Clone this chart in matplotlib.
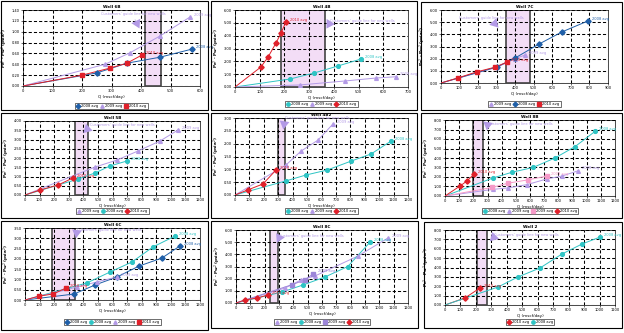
import matplotlib
matplotlib.use('Agg')
import matplotlib.pyplot as plt
from matplotlib.patches import Rectangle

W, H = 624, 333

# colours
BLUE = '#1F5FA8'
CYAN = '#2EC4C4'
LAV = '#B39AE6'
RED = '#E0202A'
PINK = '#F59AC8'

# ---------------- data (Q in mscf/day, Pe^2-Pw^2 in psia^2 scaled) ----------------
titles = ['Well 6B', 'Well 4B', 'Well 7C', 'Well 5B', 'Well 4B2', 'Well 8B',
          'Well 6C', 'Well 8C', 'Well 2']

# panel 1
p1_q08 = [0, 250, 352, 464, 573]
p1_p08 = [0, 0.24, 0.42, 0.53, 0.68]
p1_q09 = [0, 278, 362, 464, 566]
p1_p09 = [0, 0.40, 0.61, 0.92, 1.27]
p1_q10 = [0, 200, 295, 352, 403]
p1_p10 = [0, 0.20, 0.33, 0.42, 0.57]

# panel 2
p2_q08 = [0, 222, 320, 417, 510]
p2_p08 = [0, 0.62, 1.09, 1.64, 2.18]
p2_q09 = [0, 263, 445, 571, 651]
p2_p09 = [0, 0.16, 0.47, 0.70, 0.80]
p2_q10 = [0, 105, 134, 166, 186, 206]
p2_p10 = [0, 1.56, 2.34, 3.43, 4.20, 5.07]

# panel 3
p3_q08 = [0, 302, 399, 528, 652, 792]
p3_p08 = [0, 1.32, 2.05, 3.20, 4.20, 5.10]
p3_q09 = [0, 302, 399, 453]
p3_p09 = [0, 1.30, 2.00, 2.30]
p3_q10 = [0, 92, 194, 291, 356]
p3_p10 = [0, 0.42, 0.92, 1.30, 1.72]

# panel 4
p4_q09 = [0, 480, 631, 775, 926, 1049]
p4_p09 = [0, 1.51, 1.89, 2.38, 2.92, 3.51]
p4_q08 = [0, 363, 480, 583, 700]
p4_p08 = [0, 0.86, 1.19, 1.57, 1.84]
p4_q10 = [0, 103, 226, 329]
p4_p10 = [0, 0.27, 0.54, 0.92]

# panel 5
p5_q08 = [0, 354, 493, 638, 805, 944, 1082]
p5_p08 = [0, 0.55, 0.78, 0.97, 1.32, 1.60, 2.10]
p5_q09 = [0, 354, 458, 576, 680]
p5_p09 = [0, 1.17, 1.71, 2.14, 2.77]
p5_q10 = [0, 90, 194, 284]
p5_p10 = [0, 0.20, 0.43, 0.97]

# panel 6
p6_q08 = [0, 339, 473, 621, 776, 918, 1059]
p6_p08 = [0, 1.90, 2.50, 3.00, 4.00, 5.20, 6.80]
p6_q09 = [0, 339, 445, 579, 720, 826, 939]
p6_p09 = [0, 0.70, 0.85, 1.20, 1.80, 2.10, 2.65]
p6_q09b = [0, 332, 445, 586, 720]
p6_p09b = [0, 0.90, 1.35, 1.70, 2.10]
p6_q10 = [0, 106, 155, 205]
p6_p10 = [0, 1.05, 1.58, 2.30]

# panel 7
p7_q08 = [0, 336, 480, 631, 782, 939, 1063]
p7_p08 = [0, 0.29, 0.73, 1.12, 1.65, 2.04, 2.63]
p7_q08b = [0, 425, 583, 734, 878, 1029]
p7_p08b = [0, 0.83, 1.36, 1.85, 2.58, 3.11]
p7_q09 = [0, 357, 494, 631]
p7_p09 = [0, 0.63, 0.88, 1.12]
p7_q10 = [0, 96, 192, 281]
p7_p10 = [0, 0.19, 0.29, 0.58]

# panel 8
p8_q09 = [0, 342, 453, 551, 851, 1060]
p8_p09 = [0, 1.23, 1.89, 2.22, 3.86, 5.34]
p8_q08 = [0, 321, 467, 621, 780, 935]
p8_p08 = [0, 0.90, 1.48, 2.14, 3.00, 5.00]
p8_q09b = [0, 390, 480, 540]
p8_p09b = [0, 1.50, 1.90, 2.40]
p8_q10 = [0, 63, 147, 223]
p8_p10 = [0, 0.25, 0.41, 0.66]

# panel 9
p9_q10 = [0, 129, 226]
p9_p10 = [0, 0.75, 1.81]
p9_q08 = [0, 343, 472, 615, 757, 886, 1003]
p9_p08 = [0, 1.92, 2.99, 3.95, 5.44, 6.50, 7.25]

# axis ranges: (xmax, xstep, ymax, ystep)
ranges = [(600, 100, 1.4, 0.2), (700, 100, 6.0, 1.0), (900, 100, 6.0, 1.0),
          (1200, 100, 4.0, 0.5), (1200, 100, 3.0, 0.5), (1200, 100, 8.0, 1.0),
          (1200, 100, 3.5, 0.5), (1200, 100, 6.0, 1.0), (1100, 100, 8.0, 1.0)]

# guide-line band (Q range)
bands = [(413, 468), (186, 364), (350, 480), (343, 432), (298, 347),
         (198, 268), (185, 343), (237, 293), (207, 272)]

# annotation text position and arrow tip (data units)
guide_txt = [(265, 1.30), (385, 5.1), (95, 5.3), (445, 3.75), (345, 2.95),
             (300, 7.5), (355, 3.35), (300, 5.4), (320, 7.4)]
guide_tip = [(395, 1.06), (370, 4.55), (310, 4.55), (400, 3.35), (335, 2.55),
             (295, 6.9), (350, 3.0), (285, 4.95), (290, 6.8)]

series = [
    [('2008 avg', BLUE, 'D', p1_q08, p1_p08), ('2009 avg', LAV, '^', p1_q09, p1_p09),
     ('2010 avg', RED, 's', p1_q10, p1_p10)],
    [('2008 avg', CYAN, 'o', p2_q08, p2_p08), ('2009 avg', LAV, '^', p2_q09, p2_p09),
     ('2010 avg', RED, 'D', p2_q10, p2_p10)],
    [('2009 avg', LAV, '^', p3_q09, p3_p09), ('2008 avg', BLUE, 'D', p3_q08, p3_p08),
     ('2010 avg', RED, 's', p3_q10, p3_p10)],
    [('2009 avg', LAV, '^', p4_q09, p4_p09), ('2008 avg', CYAN, 'o', p4_q08, p4_p08),
     ('2010 avg', RED, 'D', p4_q10, p4_p10)],
    [('2008 avg', CYAN, 'o', p5_q08, p5_p08), ('2009 avg', LAV, '^', p5_q09, p5_p09),
     ('2010 avg', RED, 'D', p5_q10, p5_p10)],
    [('2008 avg', CYAN, 'o', p6_q08, p6_p08), ('2009 avg', LAV, '^', p6_q09, p6_p09),
     ('2009 avg', PINK, 's', p6_q09b, p6_p09b), ('2010 avg', RED, 'D', p6_q10, p6_p10)],
    [('2008 avg', BLUE, 'D', p7_q08, p7_p08), ('2008 avg', CYAN, 'o', p7_q08b, p7_p08b),
     ('2009 avg', LAV, '^', p7_q09, p7_p09), ('2010 avg', RED, 's', p7_q10, p7_p10)],
    [('2009 avg', LAV, '^', p8_q09, p8_p09), ('2008 avg', CYAN, 'o', p8_q08, p8_p08),
     ('2009 avg', '#9C86D8', 's', p8_q09b, p8_p09b), ('2010 avg', RED, 'D', p8_q10, p8_p10)],
    [('2010 avg', RED, 'D', p9_q10, p9_p10), ('2008 avg', CYAN, 'o', p9_q08, p9_p08)],
]

# ---------------- layout in pixels ----------------
boxes = [(1, 1, 208, 110), (211, 1, 417, 110), (421, 2, 622, 110),
         (1, 113, 208, 218), (211, 113, 417, 218), (421, 113, 622, 218),
         (1, 221, 208, 330), (211, 221, 418, 328), (424, 222, 622, 328)]
axpos = [(23, 10, 200, 86), (235, 10, 408, 87), (441, 10, 608, 83),
         (25, 121, 200, 195), (235, 118, 408, 195), (445, 120, 615, 196),
         (25, 228, 200, 300), (236, 230, 408, 303), (445, 230, 615, 305)]
leg_y = [106, 104, 104, 211, 211, 211, 322, 322, 322]


def frac(x0, y0, x1, y1):
    return [x0 / W, 1 - y1 / H, (x1 - x0) / W, (y1 - y0) / H]


fig = plt.figure(figsize=(W / 100, H / 100), dpi=100)
fig.patch.set_facecolor('white')

for i in range(9):
    bx = boxes[i]
    fig.patches.append(Rectangle((bx[0] / W, 1 - bx[3] / H), (bx[2] - bx[0]) / W,
                                 (bx[3] - bx[1]) / H, transform=fig.transFigure,
                                 fill=False, edgecolor='black', lw=0.8))
    ax = fig.add_axes(frac(*axpos[i]))
    xmax, xstep, ymax, ystep = ranges[i]
    ax.set_xlim(0, xmax)
    ax.set_ylim(0, ymax)
    xt = list(range(0, xmax + 1, xstep))
    ax.set_xticks(xt)
    ax.set_xticklabels([str(v) for v in xt])
    nyt = int(round(ymax / ystep))
    yt = [k * ystep for k in range(nyt + 1)]
    ax.set_yticks(yt)
    ax.set_yticklabels(['%.2f' % v for v in yt])
    ax.tick_params(labelsize=2.6, length=1.5, width=0.4, pad=1)
    ax.grid(True, color='black', ls=(0, (3, 2)), lw=0.75)
    for sp in ax.spines.values():
        sp.set_linewidth(0.5)

    b0, b1 = bands[i]
    ax.axvspan(b0, b1, facecolor='#F3DDF6', edgecolor='#444444', lw=1.2, zorder=1.5)

    handles = []
    for lab, col, mk, qs, ps in series[i]:
        ax.plot(qs, ps, '-', color=col, lw=0.7, zorder=3)
        h, = ax.plot(qs[1:], ps[1:], ls='none', marker=mk, color=col, ms=2.7,
                     mec=col, zorder=4, label=lab)
        handles.append(h)
        ax.annotate(lab, (qs[-1], ps[-1]), xytext=(3, 1), textcoords='offset points',
                    fontsize=2.6, color=col, zorder=5)

    ax.annotate("Customers' guide line for new wells", guide_tip[i],
                xytext=guide_txt[i], fontsize=2.6, color=LAV, zorder=6,
                arrowprops=dict(facecolor=LAV, edgecolor='none', width=0.3,
                                headwidth=7, headlength=6, shrink=0))

    ax.set_title(titles[i], fontsize=3, fontweight='bold', pad=1.5)
    ax.set_xlabel('Q (mscf/day)', fontsize=3, labelpad=1)
    ax.set_ylabel('Pe$^2$ - Pw$^2$ (psia$^2$)', fontsize=3, fontweight='bold', labelpad=1)

    cx = (axpos[i][0] + axpos[i][2]) / 2 / W
    fig.legend(handles=handles, loc='center', bbox_to_anchor=(cx, 1 - leg_y[i] / H),
               ncol=len(handles), fontsize=2.6, frameon=True, fancybox=False,
               edgecolor='black', handlelength=1, handletextpad=0.3,
               columnspacing=0.6, borderpad=0.3, markerscale=0.9).get_frame().set_linewidth(0.5)

fig.savefig('out.png', dpi=100)
